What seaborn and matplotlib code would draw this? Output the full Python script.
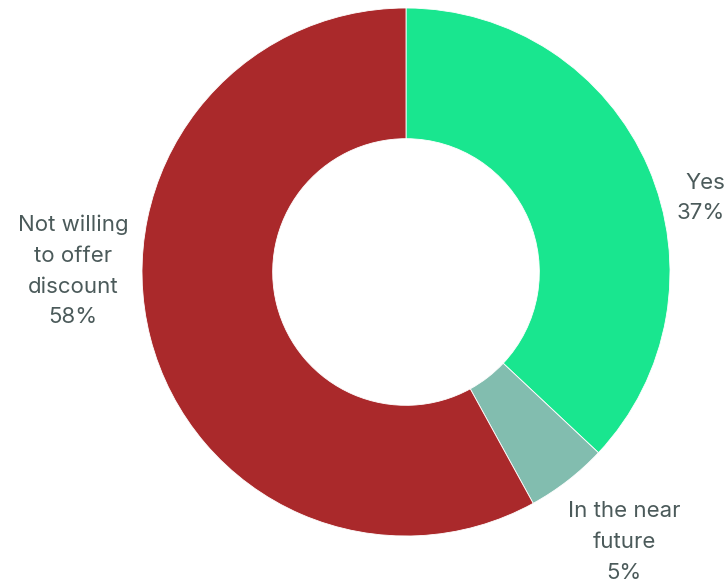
import matplotlib
matplotlib.use("Agg")
import matplotlib.pyplot as plt
import seaborn as sns

categories = ["Yes", "In the near\nfuture", "Not willing\nto offer\ndiscount"]
shares = [37, 5, 58]
colors = ["#19E68F", "#82BDAF", "#AA292B"]

sns.set_theme(style="white")
plt.rcParams["font.family"] = ["Inter", "DejaVu Sans"]

W, H = 728, 584
cx, cy, R = 406, 272, 264  # donut centre and radius in pixels

fig = plt.figure(figsize=(W / 100, H / 100), dpi=100)
ax = fig.add_axes([0, 0, 1, 1])
ax.pie(shares, colors=colors, startangle=90, counterclock=False, radius=1,
       wedgeprops=dict(width=0.495, edgecolor="white", linewidth=0.6))
ax.set_aspect("auto")
ax.set_xlim(-cx / R, (W - cx) / R)
ax.set_ylim(-(H - cy) / R, cy / R)
ax.axis("off")

text_color = "#4B5A5A"
label_pos = [((725 - cx) / R, (cy - 198) / R, "right"),
             ((624 - cx) / R, (cy - 542) / R, "center"),
             ((73 - cx) / R, (cy - 271) / R, "center")]
for name, val, (x, y, ha) in zip(categories, shares, label_pos):
    ax.text(x, y, f"{name}\n{val}%", ha=ha, va="center", multialignment=ha,
            fontsize=16, color=text_color, linespacing=1.66)

fig.savefig("out.png", dpi=100)
